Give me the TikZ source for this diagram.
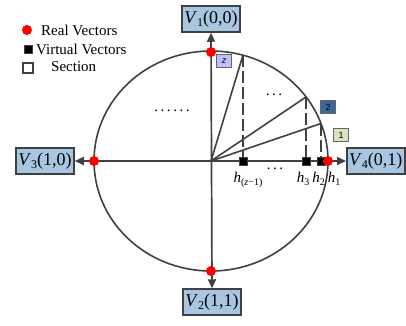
\documentclass[tikz,border=0pt]{standalone}
\usepackage{fontspec}
\setmainfont{Liberation Serif}
\newfontfamily\secfont{Liberation Sans}
\usetikzlibrary{arrows.meta}
\definecolor{boxblue}{RGB}{168,198,226}
\definecolor{linegray}{RGB}{64,64,64}
\definecolor{secz}{RGB}{190,190,255}
\definecolor{sectwo}{RGB}{58,106,154}
\definecolor{secone}{RGB}{216,228,188}
\newcommand\vlab[2]{\textit{V}\raisebox{-0.4ex}{\fontsize{12}{12}\selectfont #1}(#2)}
\newcommand\hlab[1]{\textit{h}\raisebox{-0.45ex}{\fontsize{10}{10}\selectfont #1}}
\tikzset{
  vbox/.style={draw=linegray, line width=1.5pt, fill=boxblue, minimum width=58pt, minimum height=26pt, inner sep=1pt, font=\fontsize{18}{18}\selectfont},
  axisline/.style={draw=linegray, line width=1.7pt, {Triangle[length=9pt,width=8pt]}-{Triangle[length=9pt,width=8pt]}},
  circline/.style={draw=linegray, line width=1.6pt},
  spoke/.style={draw=linegray, line width=1.6pt},
  dashline/.style={draw=linegray, line width=1.6pt, dash pattern=on 12pt off 4pt},
  vsq/.style={rectangle, fill=black, draw=linegray, line width=0.6pt, minimum size=8pt, inner sep=0pt},
  rdot/.style={circle, fill=red, minimum size=10pt, inner sep=0pt},
  secbox/.style={rectangle, draw=linegray!80, line width=1.4pt, minimum width=15pt, minimum height=13pt, inner sep=0pt, font=\secfont\fontsize{9}{9}\selectfont},
  legtext/.style={anchor=west, font=\fontsize{15}{15}\selectfont, inner sep=0pt},
  hlabel/.style={anchor=base, font=\fontsize{15}{15}\selectfont, inner sep=0pt},
  dotstext/.style={font=\fontsize{15}{15}\selectfont, inner sep=0pt}
}
\begin{document}
\begin{tikzpicture}[x=1pt,y=-1pt]
\useasboundingbox (0,0) rectangle (406,325);
% boxes
\node[vbox] (v1) at (211,19) {\vlab{1}{0,0}};
\node[vbox] (v2) at (212,302) {\vlab{2}{1,1}};
\node[vbox] (v3) at (45,161) {\vlab{3}{1,0}};
\node[vbox, anchor=west] (v4) at (346,161) {\vlab{4}{0,1}};
% circle
\coordinate (o) at (211,161);
\draw[circline] (o) ellipse [x radius=117, y radius=110];
% axes
\draw[axisline] (v3.east) -- (v4.west);
\draw[axisline] (v1.south) -- (v2.north);
% spokes
\coordinate (p1) at (321,123.5);
\coordinate (p2) at (306,97);
\coordinate (pz) at (243,55);
\coordinate (f1) at (321,161);
\coordinate (f2) at (306,161);
\coordinate (fz) at (243,161);
\draw[spoke] (o) -- (p1);
\draw[spoke] (o) -- (p2);
\draw[spoke] (o) -- (pz);
\draw[dashline] (p1) -- (f1);
\draw[dashline] (p2) -- (f2);
\draw[dashline] (pz) -- (fz);
\node[vsq] (s1) at (f1) {};
\node[vsq] (s2) at (f2) {};
\node[vsq] (sz) at (fz) {};
% real vector dots
\node[rdot] (rt) at (211,52) {};
\node[rdot] (rb) at (211,271) {};
\node[rdot] (rl) at (94,161) {};
\node[rdot] (rr) at (328,161) {};
% section boxes
\node[secbox, fill=secz] (secz) at (224,61) {\textit{z}};
\node[secbox, fill=sectwo] (sec2) at (328,107) {2};
\node[secbox, fill=secone] (sec1) at (341,135) {1};
% dots
\node[dotstext] (dl) at (172,111) {.\hspace{2.6pt}.\hspace{2.6pt}.\hspace{2.6pt}.\hspace{2.6pt}.\hspace{2.6pt}.};
\node[dotstext] (dr) at (274,95) {.\hspace{2.5pt}.\hspace{2.5pt}.};
\node[dotstext] (dh) at (275,169) {.\hspace{2.5pt}.\hspace{2.5pt}.};
% h labels
\node[hlabel] (hz) at (248,182) {\hlab{(\textit{z}−1)}};
\node[hlabel] (h3) at (303,182) {\hlab{3}};
\node[hlabel] (h2) at (318.5,182) {\hlab{2}};
\node[hlabel] (h1) at (334,182) {\hlab{1}};
% legend
\node[rdot] (lr) at (27,30) {};
\node[legtext] (lrt) at (41,30) {Real Vectors};
\node[vsq] (lv) at (28,49) {};
\node[legtext] (lvt) at (36,49) {Virtual Vectors};
\node[rectangle, draw=linegray, fill=white, line width=1.5pt, minimum size=10pt, inner sep=0pt] (ls) at (28,68) {};
\node[legtext] (lst) at (51,67) {Section};
\end{tikzpicture}
\end{document}
